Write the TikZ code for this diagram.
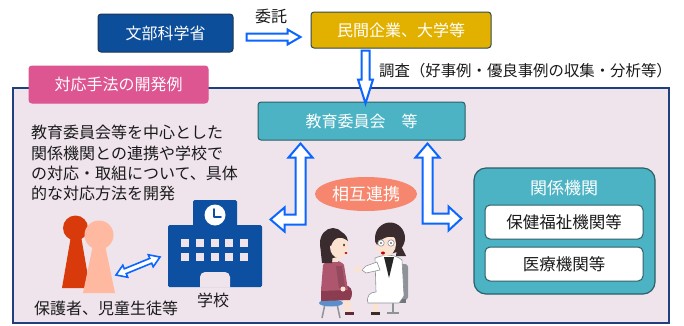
\documentclass[tikz,border=0pt]{standalone}
\usepackage{fontspec}
\setmainfont{Noto Sans CJK JP}
\usetikzlibrary{calc,shapes.geometric}

\definecolor{mextblue}{HTML}{0D4E9B}
\definecolor{mextedge}{HTML}{1D3556}
\definecolor{gold}{HTML}{E2B100}
\definecolor{goldedge}{HTML}{2E4A55}
\definecolor{tealfill}{HTML}{4BB3C4}
\definecolor{tealedge}{HTML}{2C5F68}
\definecolor{pinklbl}{HTML}{DD5591}
\definecolor{panelfill}{HTML}{EFE4EC}
\definecolor{paneledge}{HTML}{1F3F7F}
\definecolor{arrowblue}{HTML}{0A66FF}
\definecolor{salmon}{HTML}{F6876E}
\definecolor{ink}{HTML}{1A1A1A}
\definecolor{schoolblue}{HTML}{0D4FA0}
\definecolor{parentdark}{HTML}{D83A0C}
\definecolor{parentlight}{HTML}{FFB9A1}
\definecolor{hair}{HTML}{3A2C2E}
\definecolor{skin}{HTML}{FCE2D1}
\definecolor{sweater}{HTML}{AE566D}
\definecolor{skirt}{HTML}{8C3C50}
\definecolor{stool}{HTML}{5A8FCB}
\definecolor{metal}{HTML}{8E9399}

\tikzset{
  txt/.style={font=\fontsize{#1}{#1}\selectfont},
  txt/.default=16,
  whitebox/.style={rounded corners=3pt, text=white, line width=1pt, txt},
  hollow/.style={draw=arrowblue, fill=white, line width=2pt, line join=miter},
  innerbox/.style={draw=tealedge, fill=white, rounded corners=5pt, line width=1pt,
    minimum width=158pt, minimum height=34pt, text=ink, txt=16.5},
}

% straight hollow arrow: from, to, shaft half width, head half width, head length
\newcommand{\blockarrow}[5]{%
  \draw[hollow] let \p1=($(#2)-(#1)$), \n1={atan2(\y1,\x1)}, \n2={veclen(\x1,\y1)} in
    [shift={(#1)}, rotate=\n1]
    (0pt,-#3pt) -- (\n2-#5pt,-#3pt) -- (\n2-#5pt,-#4pt) -- (\n2,0pt)
    -- (\n2-#5pt,#4pt) -- (\n2-#5pt,#3pt) -- (0pt,#3pt) -- cycle;}
% straight hollow arrow with a head at both ends
\newcommand{\twinarrow}[5]{%
  \draw[hollow, line width=1.6pt] let \p1=($(#2)-(#1)$), \n1={atan2(\y1,\x1)}, \n2={veclen(\x1,\y1)} in
    [shift={(#1)}, rotate=\n1]
    (0pt,0pt) -- (#5pt,-#4pt) -- (#5pt,-#3pt) -- (\n2-#5pt,-#3pt) -- (\n2-#5pt,-#4pt) -- (\n2,0pt)
    -- (\n2-#5pt,#4pt) -- (\n2-#5pt,#3pt) -- (#5pt,#3pt) -- (#5pt,#4pt) -- cycle;}

\begin{document}
\begin{tikzpicture}[x=1pt, y=-1pt, every node/.style={inner sep=0pt}]
\useasboundingbox (0,0) rectangle (684,325);
\fill[white] (0,0) rectangle (684,325);

% ---- commissioning at the top ----
\node[whitebox, fill=mextblue, draw=mextedge, minimum width=135pt, minimum height=38pt] (mext) at (165.5,33) {文部科学省};
\node[whitebox, fill=gold, draw=goldedge, minimum width=180pt, minimum height=36pt] (priv) at (401,30) {民間企業、大学等};
\node[txt, text=ink] (itaku) at (271,16) {委託};
\coordinate (a1) at ($(mext.east)+(13,4)$);
\coordinate (a2) at ($(priv.west)+(-10,7)$);
\blockarrow{a1}{a2}{3.5}{7.5}{13}

% ---- development panel ----
\node[draw=paneledge, fill=panelfill, line width=1.5pt, minimum width=656pt, minimum height=235pt] (panel) at (341,205.5) {};
\node[whitebox, fill=pinklbl, draw=pinklbl, minimum width=179pt, minimum height=37pt] (tag) at (118.5,84.5) {対応手法の開発例};

\node[whitebox, fill=tealfill, draw=tealedge, minimum width=207pt, minimum height=38pt] (board) at (361.5,121) {教育委員会　等};

\coordinate (b1) at ($(priv.south west)+(55,2)$);
\coordinate (b2) at ($(board.north west)+(108,2)$);
\blockarrow{b1}{b2}{4}{7.5}{24}
\node[txt=15.4, text=ink, anchor=west] (survey) at (379,71) {調査（好事例・優良事例の収集・分析等）};

\node[txt, text=ink, anchor=north west, align=left, font=\fontsize{16}{20.4}\selectfont] (desc) at (31,125)
  {教育委員会等を中心とした\\関係機関との連携や学校で\\の対応・取組について、具体\\的な対応方法を開発};

% ---- related agencies ----
\node[draw=tealedge, fill=tealfill, rounded corners=12pt, line width=1.2pt, minimum width=181pt, minimum height=126pt] (agency) at (564.5,231) {};
\node[txt=17, text=white] (agtitle) at (564,188) {関係機関};
\node[innerbox] (welfare) at (564,222) {保健福祉機関等};
\node[innerbox] (medical) at (564,264) {医療機関等};

\node[ellipse, fill=salmon, minimum width=102pt, minimum height=34pt, text=white, txt=17] (mutual) at (366,194) {相互連携};

% ---- L-shaped links from the board ----
\coordinate (lt) at ($(board.south west)+(43,3)$);
\draw[hollow] (lt) -- +(12,14) -- +(5,14) -- +(5,81) -- +(-16,81) -- +(-16,88) -- +(-30,76)
  -- +(-16,64) -- +(-16,71) -- +(-5,71) -- +(-5,14) -- +(-12,14) -- cycle;
\coordinate (rt) at ($(board.south east)+(-38,3)$);
\draw[hollow] (rt) -- +(12,14) -- +(5,14) -- +(5,70) -- +(21,70) -- +(21,63) -- +(34,75)
  -- +(21,87) -- +(21,80) -- +(-5,80) -- +(-5,14) -- +(-12,14) -- cycle;

% ---- school ----
\coordinate (school) at (215,243);
\fill[schoolblue, rounded corners=1.5pt] (168,225) rectangle (262,287);
\fill[schoolblue, rounded corners=1.5pt] (193,200) rectangle (237,227);
\fill[white] (215,215) circle (10.5);
\draw[schoolblue, line width=1.7pt, line cap=round, line join=round] (214,209) -- (214,217) -- (221,217);
\foreach \wx in {185,200,215,229,244}
  \foreach \wy in {243,257}
    \fill[panelfill] (\wx-3.6,\wy-3.6) rectangle (\wx+3.6,\wy+3.6);
\fill[panelfill, rounded corners=5pt] (200,287.5) -- (200,272) -- (230,272) -- (230,287.5);
\node[txt, text=ink] (schoollbl) at (213,300) {学校};

% ---- parents and pupils ----
\fill[parentdark] (75.5,228) circle (12.5);
\fill[parentdark] (71,236) -- (81,236) -- (90,288) -- (62,288) -- cycle;
\fill[parentlight] (99,235) circle (14.5);
\fill[parentlight] (93,245) -- (105,245) -- (115,293) -- (83,293) -- cycle;
\node[txt, text=ink] (parentlbl) at (106,308) {保護者、児童生徒等};
\coordinate (pa) at (116,275);
\coordinate (sc) at (160,257);
\twinarrow{pa}{sc}{2.6}{6.5}{10}

% ---- consultation scene ----
% patient on a stool
\draw[metal, line width=1.5pt] (325,304) -- (322,318) (337,304) -- (340,318);
\fill[stool] (331,303) ellipse (12 and 3.5);
\fill[skin] (343,296) -- (350,296) -- (351,313) -- (346,313) -- cycle;
\fill[skirt!70!black] (345,312) rectangle (354,315);
\fill[skirt] (321,287) -- (348,286) .. controls (353,288) and (353,296) .. (350,300) -- (321,301) -- cycle;
\fill[sweater] (323,265) .. controls (327,259) and (340,259) .. (344,265) -- (348,290) -- (321,291) -- cycle;
\fill[sweater!85!black] (336,266) -- (342,266) -- (345,287) -- (339,288) -- cycle;
\fill[skin] (343,289) circle (2.5);
\fill[skin] (332,255) rectangle (338,262);
\fill[hair] (333,243) ellipse (13 and 15);
\fill[hair] (320,244) -- (322,263) -- (332,263) -- (334,244) -- cycle;
\fill[skin] (339,247) ellipse (9 and 11);
\fill[hair] (325,242) .. controls (329,228) and (346,228) .. (348,241) .. controls (342,236) and (334,236) .. (331,246) -- cycle;
\fill[hair] (344,245) ellipse (1 and 1.5);
\fill[red!70!black] (346,253) ellipse (1.6 and 1);
% doctor on a chair
\fill[metal, rounded corners=3pt] (400,264) rectangle (408,300);
\fill[metal!80!black] (380,299) rectangle (406,303);
\draw[metal, line width=1.5pt] (393,303) -- (393,313) (387,313) -- (399,313);
\fill[skin] (373,300) rectangle (378,313);
\fill[hair] (371,312) rectangle (380,315);
\fill[white, draw=metal, line width=0.6pt] (375,258) .. controls (385,254) and (395,254) .. (402,260) -- (404,296)
  -- (399,303) -- (368,303) .. controls (366,296) and (370,292) .. (376,292) -- cycle;
\fill[black!85] (384,257) -- (394,257) -- (389,278) -- cycle;
\fill[white, draw=metal, line width=0.6pt] (377,262) -- (366,266) -- (362,270) -- (366,273) -- (380,270) -- cycle;
\fill[skin] (358,269) ellipse (4.5 and 2.5);
\fill[hair] (390,238) ellipse (15 and 15.5);
\fill[hair] (398,240) -- (406,256) -- (396,256) -- cycle;
\fill[skin] (386,244) ellipse (10 and 12);
\fill[hair] (375,241) .. controls (377,227) and (397,225) .. (400,240) .. controls (393,235) and (383,235) .. (377,245) -- cycle;
\draw[metal, fill=white, line width=0.6pt] (381,243) circle (3.2) (391,243) circle (3.2);
\fill[hair] (381,243) circle (0.9) (391,243) circle (0.9);
\fill[red!75!black] (383,253) ellipse (2 and 1.5);
\end{tikzpicture}
\end{document}
